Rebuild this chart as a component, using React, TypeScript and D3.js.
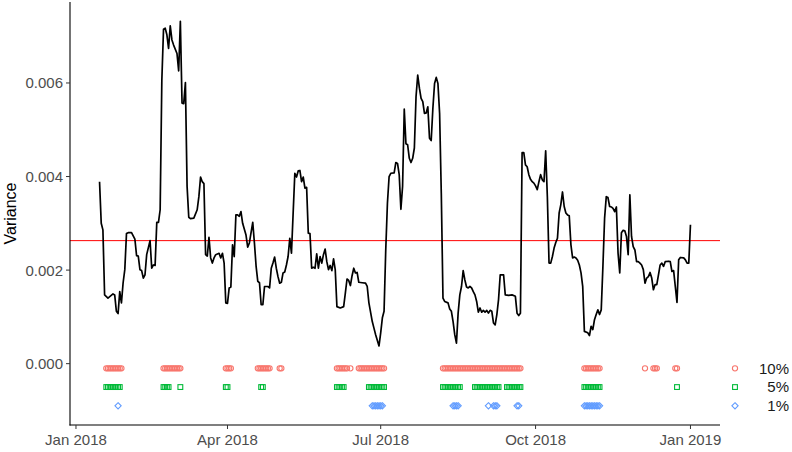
import * as d3 from 'd3';

// days since 1 Jan 2018
const days = [
  14, 15, 16, 17, 19, 22, 23, 24, 25, 26, 27, 28, 29, 30, 31, 33, 35, 36, 37, 38, 39, 40, 41, 42, 44, 45, 46, 47, 48, 49,
  50, 51, 52, 53, 54, 55, 56, 57, 58, 60, 61, 62, 63, 64, 65, 66, 67, 68, 70, 72, 73, 74, 75, 76, 77, 78, 79, 80, 81, 82,
  83, 85, 86, 87, 88, 89, 90, 91, 92, 93, 94, 95, 96, 97, 98, 99, 101, 102, 103, 105, 106, 107, 108, 109, 110, 111, 112,
  114, 115, 116, 117, 118, 119, 120, 121, 122, 123, 124, 125, 126, 127, 128, 129, 130, 131, 132, 133, 134, 135, 136, 137,
  138, 139, 140, 141, 142, 143, 144, 145, 146, 147, 148, 149, 150, 151, 152, 153, 154, 155, 157, 159, 160, 161, 162, 163,
  164, 165, 166, 167, 168, 170, 172, 173, 174, 176, 177, 178, 180, 181, 182, 183, 184, 185, 186, 187, 189, 190, 191, 192,
  193, 194, 195, 196, 197, 198, 199, 200, 201, 202, 203, 204, 205, 206, 207, 208, 209, 210, 211, 212, 213, 214, 215, 216,
  217, 218, 219, 221, 222, 223, 224, 225, 226, 227, 228, 229, 230, 231, 232, 233, 234, 235, 236, 237, 238, 239, 240, 241,
  242, 243, 244, 245, 246, 247, 248, 249, 250, 251, 252, 254, 255, 257, 259, 261, 262, 263, 264, 265, 266, 267, 268, 269,
  270, 271, 272, 273, 274, 275, 276, 277, 278, 279, 280, 281, 282, 283, 284, 285, 286, 287, 288, 289, 290, 291, 292, 293,
  294, 295, 296, 297, 298, 299, 300, 301, 302, 304, 305, 306, 307, 308, 309, 310, 311, 312, 313, 314, 315, 316, 317, 318,
  319, 320, 321, 322, 323, 324, 325, 326, 327, 328, 329, 330, 331, 332, 333, 334, 335, 336, 337, 338, 339, 340, 341, 342,
  343, 344, 345, 346, 347, 348, 349, 350, 352, 353, 354, 355, 356, 357, 358, 359, 361, 362, 363, 364, 365
];

const variance = [
  0.00389, 0.00300, 0.00286, 0.00147, 0.00140, 0.00149, 0.00147, 0.00112, 0.00107, 0.00154, 0.00130, 0.00173, 0.00201,
  0.00278, 0.00280, 0.00280, 0.00266, 0.00231, 0.00230, 0.00201, 0.00199, 0.00183, 0.00190, 0.00233, 0.00263, 0.00204,
  0.00211, 0.00210, 0.00302, 0.00302, 0.00329, 0.00606, 0.00715, 0.00717, 0.00703, 0.00674, 0.00722, 0.00692, 0.00681,
  0.00663, 0.00626, 0.00732, 0.00557, 0.00556, 0.00601, 0.00379, 0.00313, 0.00310, 0.00311, 0.00329, 0.00357, 0.00399,
  0.00389, 0.00385, 0.00233, 0.00230, 0.00270, 0.00226, 0.00215, 0.00226, 0.00233, 0.00236, 0.00226, 0.00236, 0.00215,
  0.00130, 0.00129, 0.00162, 0.00164, 0.00254, 0.00229, 0.00318, 0.00318, 0.00315, 0.00325, 0.00300, 0.00275, 0.00249,
  0.00258, 0.00302, 0.00258, 0.00208, 0.00176, 0.00173, 0.00126, 0.00126, 0.00165, 0.00165, 0.00162, 0.00204, 0.00215,
  0.00228, 0.00204, 0.00186, 0.00172, 0.00174, 0.00194, 0.00196, 0.00211, 0.00229, 0.00268, 0.00236, 0.00322, 0.00407,
  0.00399, 0.00412, 0.00413, 0.00389, 0.00399, 0.00375, 0.00377, 0.00279, 0.00278, 0.00204, 0.00206, 0.00204, 0.00235,
  0.00204, 0.00229, 0.00215, 0.00233, 0.00245, 0.00218, 0.00201, 0.00210, 0.00199, 0.00224, 0.00201, 0.00122, 0.00119,
  0.00122, 0.00151, 0.00181, 0.00178, 0.00167, 0.00188, 0.00204, 0.00194, 0.00195, 0.00174, 0.00173, 0.00172, 0.00165,
  0.00130, 0.00090, 0.00076, 0.00062, 0.00038, 0.00066, 0.00098, 0.00112, 0.00243, 0.00343, 0.00400, 0.00407, 0.00408,
  0.00430, 0.00428, 0.00404, 0.00330, 0.00379, 0.00544, 0.00470, 0.00468, 0.00439, 0.00430, 0.00439, 0.00461, 0.00571,
  0.00617, 0.00589, 0.00567, 0.00560, 0.00535, 0.00536, 0.00549, 0.00482, 0.00477, 0.00546, 0.00599, 0.00612, 0.00599,
  0.00535, 0.00364, 0.00140, 0.00133, 0.00130, 0.00117, 0.00112, 0.00090, 0.00062, 0.00044, 0.00108, 0.00147, 0.00165,
  0.00199, 0.00179, 0.00164, 0.00162, 0.00165, 0.00162, 0.00154, 0.00147, 0.00133, 0.00110, 0.00119, 0.00110, 0.00114,
  0.00110, 0.00114, 0.00108, 0.00114, 0.00112, 0.00087, 0.00083, 0.00105, 0.00137, 0.00190, 0.00190, 0.00147, 0.00146,
  0.00147, 0.00144, 0.00108, 0.00103, 0.00108, 0.00451, 0.00451, 0.00425, 0.00421, 0.00404, 0.00394, 0.00389, 0.00386,
  0.00380, 0.00372, 0.00389, 0.00404, 0.00393, 0.00389, 0.00455, 0.00357, 0.00215, 0.00215, 0.00229, 0.00247, 0.00259,
  0.00268, 0.00322, 0.00340, 0.00367, 0.00336, 0.00322, 0.00318, 0.00316, 0.00254, 0.00226, 0.00228, 0.00226, 0.00221,
  0.00211, 0.00194, 0.00165, 0.00069, 0.00066, 0.00060, 0.00080, 0.00073, 0.00094, 0.00105, 0.00115, 0.00105, 0.00115,
  0.00208, 0.00311, 0.00357, 0.00355, 0.00336, 0.00335, 0.00332, 0.00325, 0.00335, 0.00236, 0.00194, 0.00280, 0.00285,
  0.00284, 0.00272, 0.00233, 0.00361, 0.00272, 0.00250, 0.00243, 0.00218, 0.00218, 0.00215, 0.00211, 0.00201, 0.00172,
  0.00183, 0.00186, 0.00195, 0.00183, 0.00158, 0.00169, 0.00169, 0.00190, 0.00211, 0.00215, 0.00208, 0.00218, 0.00219,
  0.00218, 0.00197, 0.00199, 0.00165, 0.00131, 0.00222, 0.00227, 0.00226, 0.00222, 0.00215, 0.00215, 0.00297
];

const meanVariance = 0.00263;

// days flagged at each level
const hits10 = [
  18, 19, 20, 21, 22, 23, 24, 25, 26, 27,
  52, 53, 54, 55, 56, 57, 58, 59, 60, 61, 62,
  89, 90, 91, 92,
  108, 109, 110, 111, 112, 113, 114, 115,
  121, 122,
  155, 156, 157, 158, 159, 160, 161, 163,
  168, 169, 170, 171, 172, 173, 174, 175, 176, 177, 178, 179, 180, 181, 182, 183,
  218, 219, 220, 221, 222, 223, 224, 225, 226, 227, 228, 229, 230, 231, 232, 233, 234, 235, 236, 237, 238, 239, 240,
  241, 242, 243, 244, 245, 246, 247, 248, 249, 250, 251, 252, 253, 254, 255, 256, 257, 258, 259, 260, 261, 262, 263, 264,
  302, 303, 304, 305, 306, 307, 308, 309, 310, 311,
  338, 343, 344, 345, 356, 357
];
const hits5 = [
  18, 19, 20, 21, 22, 23, 24, 25, 26,
  52, 53, 54, 55, 62,
  89, 90, 110, 111,
  155, 156, 157, 158, 159,
  174, 175, 176, 177, 178, 179, 180, 181, 182, 183,
  218, 219, 220, 221, 222, 223, 224, 225, 226, 227, 228,
  237, 238, 239, 240, 241, 242, 243, 244, 245, 246, 247, 248, 249, 250, 251,
  256, 257, 258, 259, 260, 261, 262, 263, 264,
  302, 303, 304, 305, 306, 307, 308, 309, 310, 311,
  357
];
const hits1 = [
  25,
  176, 177, 178, 179, 180, 181, 182,
  224, 225, 226, 227,
  245, 248, 249, 250,
  262, 263,
  302, 303, 304, 305, 306, 307, 308, 309, 310, 311
];

const levels = ['10%', '5%', '1%'];
const levelY = [-0.0001, -0.0005, -0.0009];
const levelColors = ['#F8766D', '#00BA38', '#619CFF'];

const W = 792;
const H = 452;
const margin = { left: 70, right: 72, top: 2, bottom: 27 };
const font = '"Liberation Sans", Arial, sans-serif';

const t0 = Date.UTC(2018, 0, 1);
const toDate = (d: number) => new Date(t0 + d * 864e5);

function Marker({ kind, x, y, color }: { kind: number; x: number; y: number; color: string }) {
  if (kind === 0) return <circle cx={x} cy={y} r={2.6} fill="none" stroke={color} strokeWidth={1.1} />;
  if (kind === 1)
    return <rect x={x - 2.4} y={y - 2.4} width={4.8} height={4.8} fill="none" stroke={color} strokeWidth={1.1} />;
  const s = 3.1;
  return (
    <path
      d={`M${x},${y - s}L${x + s},${y}L${x},${y + s}L${x - s},${y}Z`}
      fill="none"
      stroke={color}
      strokeWidth={1.1}
    />
  );
}

export default function App() {
  const allDays = days.concat(hits10, hits5, hits1);
  const [d0, d1] = d3.extent(allDays) as [number, number];
  const padX = (d1 - d0) * 0.05;
  const x = d3
    .scaleUtc()
    .domain([toDate(d0 - padX), toDate(d1 + padX)])
    .range([margin.left, W - margin.right]);

  const yMin = d3.min(levelY) as number;
  const yMax = d3.max(variance) as number;
  const padY = (yMax - yMin) * 0.05;
  const y = d3
    .scaleLinear()
    .domain([yMin - padY, yMax + padY])
    .range([H - margin.bottom, margin.top]);

  const line = d3
    .line<number>()
    .x((d, i) => x(toDate(days[i])))
    .y((d) => y(d));

  const xTicks = x.ticks(d3.utcMonth.every(3) as d3.TimeInterval);
  const fmtX = d3.utcFormat('%b %Y');
  const yTicks = [0, 0.002, 0.004, 0.006];
  const fmtY = d3.format('.3f');
  const hitSets = [hits10, hits5, hits1];
  const bottom = H - margin.bottom;

  return (
    <div style={{ position: 'fixed', left: 0, top: 0 }}>
      <svg width={W} height={H} style={{ display: 'block', background: '#fff' }} fontFamily={font}>
        <line x1={margin.left} x2={W - margin.right} y1={y(meanVariance)} y2={y(meanVariance)} stroke="#FF0000" strokeWidth={1} />
        <path d={line(variance) || ''} fill="none" stroke="#000" strokeWidth={1.7} strokeLinejoin="round" />

        {hitSets.map((set, k) =>
          set.map((d) => <Marker key={`${k}-${d}`} kind={k} x={x(toDate(d))} y={y(levelY[k])} color={levelColors[k]} />)
        )}

        {levels.map((lab, k) => (
          <g key={lab}>
            <Marker kind={k} x={735} y={y(levelY[k])} color={levelColors[k]} />
            <text x={789} y={y(levelY[k])} dy="0.36em" textAnchor="end" fontSize={15} fill="#1a1a1a">
              {lab}
            </text>
          </g>
        ))}

        {/* axes */}
        <line x1={margin.left} x2={margin.left} y1={margin.top} y2={bottom + 0.5} stroke="#000" strokeWidth={1.1} />
        <line x1={margin.left - 0.5} x2={W - margin.right} y1={bottom} y2={bottom} stroke="#000" strokeWidth={1.1} />
        {yTicks.map((t) => (
          <g key={t}>
            <line x1={margin.left - 4} x2={margin.left} y1={y(t)} y2={y(t)} stroke="#333" strokeWidth={1} />
            <text x={margin.left - 7} y={y(t)} dy="0.36em" textAnchor="end" fontSize={15} fill="#4D4D4D">
              {fmtY(t)}
            </text>
          </g>
        ))}
        {xTicks.map((t) => (
          <g key={+t}>
            <line x1={x(t)} x2={x(t)} y1={bottom} y2={bottom + 4} stroke="#333" strokeWidth={1} />
            <text x={x(t)} y={bottom + 20} textAnchor="middle" fontSize={15} fill="#4D4D4D">
              {fmtX(t)}
            </text>
          </g>
        ))}
        <text
          transform={`translate(16,${(margin.top + bottom) / 2}) rotate(-90)`}
          textAnchor="middle"
          fontSize={16}
          fill="#000"
        >
          Variance
        </text>
      </svg>
    </div>
  );
}
